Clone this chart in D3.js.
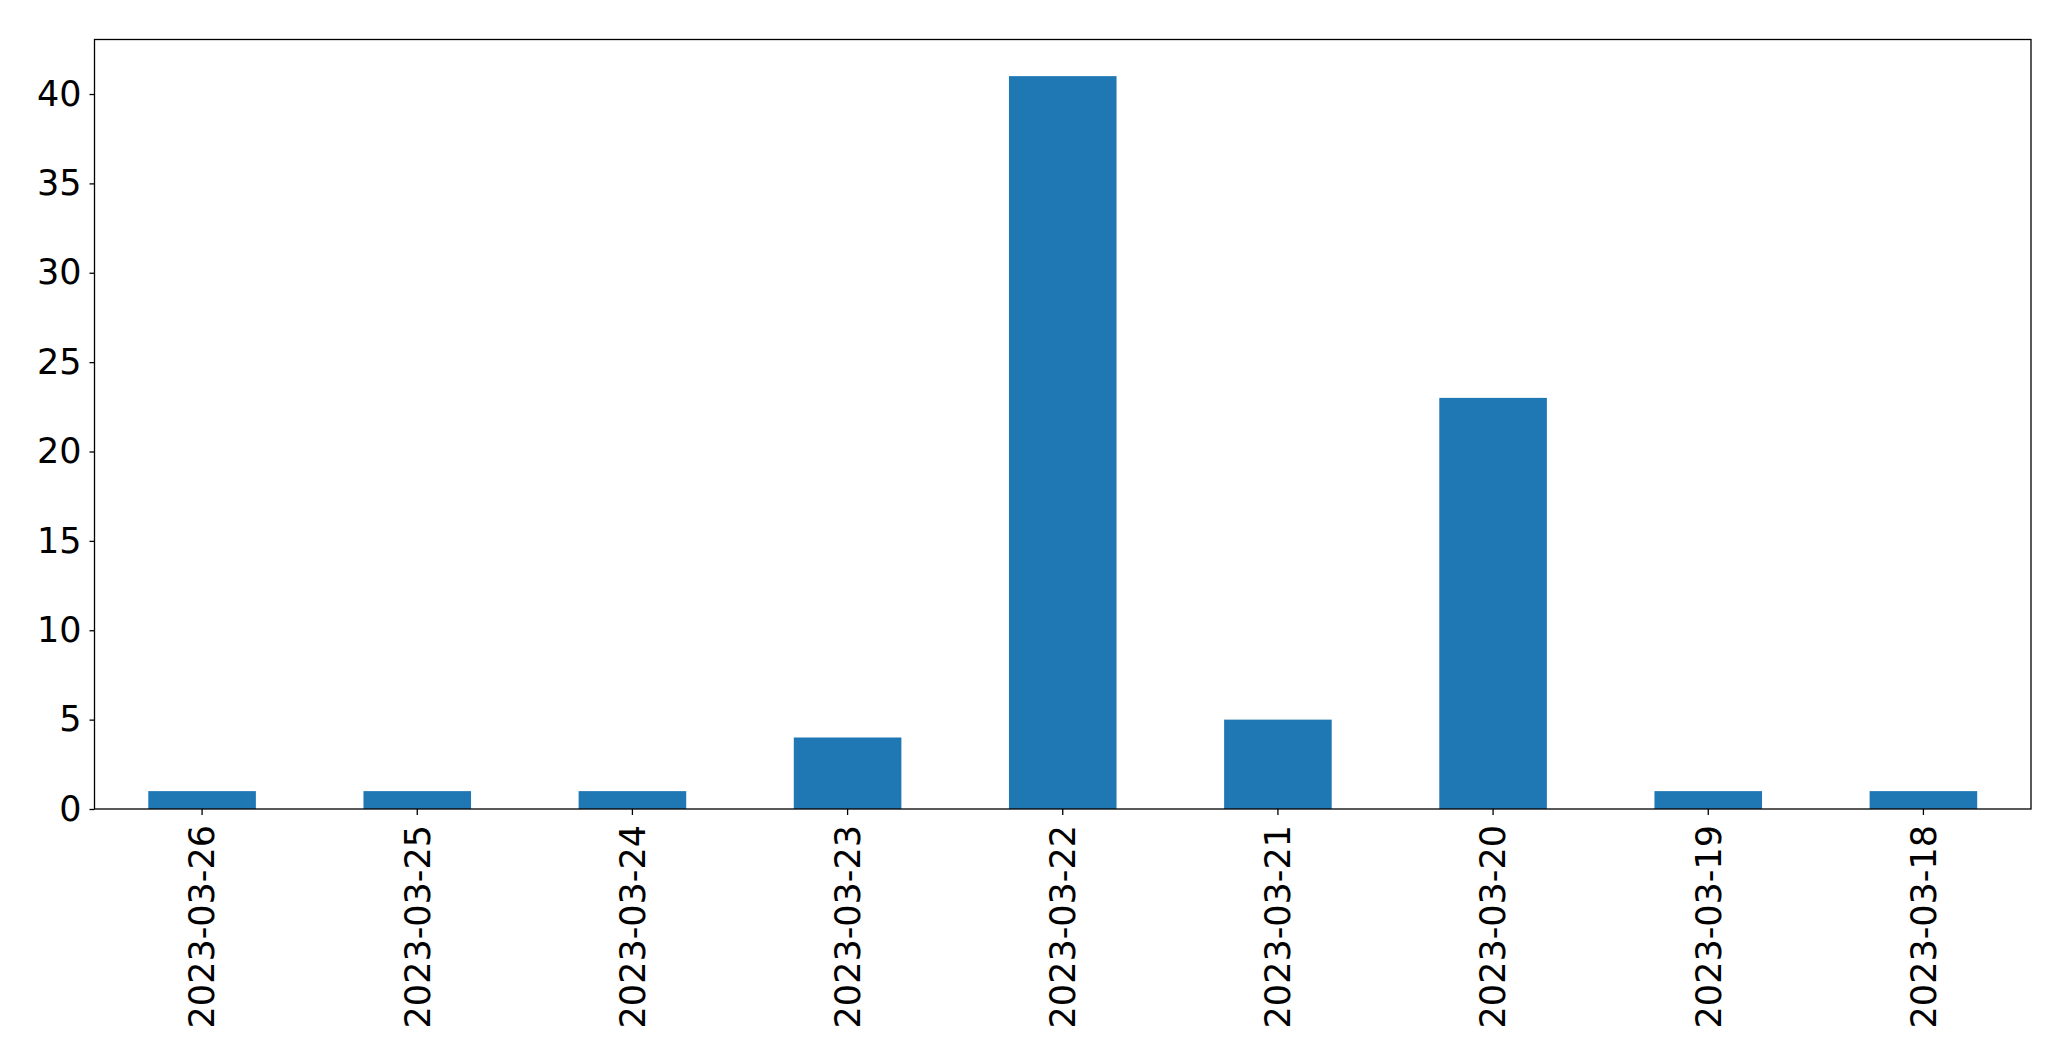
<!DOCTYPE html>
<html>
<head>
<meta charset="utf-8">
<script src="https://cdn.jsdelivr.net/npm/d3@7"></script>
<style>
  body { margin: 0; background: #fff; }
  svg { display: block; }
  .tick text { font-family: "DejaVu Sans", sans-serif; font-size: 35px; fill: #000; }
</style>
</head>
<body>
<svg id="chart"></svg>
<script>
const dates = ["2023-03-26", "2023-03-25", "2023-03-24", "2023-03-23", "2023-03-22",
               "2023-03-21", "2023-03-20", "2023-03-19", "2023-03-18"];
const counts = [1, 1, 1, 4, 41, 5, 23, 1, 1];
const yTicks = [0, 5, 10, 15, 20, 25, 30, 35, 40];

const width = 2071, height = 1061;
const margin = { top: 39.5, right: 40, bottom: 252, left: 94.5 };

const svg = d3.select("#chart").attr("width", width).attr("height", height);

const x = d3.scaleBand()
  .domain(dates)
  .range([margin.left, width - margin.right])
  .paddingInner(0.5)
  .paddingOuter(0.25);

const y = d3.scaleLinear()
  .domain([0, d3.max(counts) * 1.05])
  .range([height - margin.bottom, margin.top]);

svg.append("g")
  .selectAll("rect")
  .data(counts)
  .join("rect")
  .attr("x", (d, i) => x(dates[i]))
  .attr("y", d => y(d))
  .attr("width", x.bandwidth())
  .attr("height", d => y(0) - y(d))
  .attr("fill", "#1f77b4");

// y axis
const yAxis = svg.append("g")
  .attr("transform", `translate(${margin.left},0)`)
  .call(d3.axisLeft(y).tickValues(yTicks).tickSize(5).tickPadding(8));

// x axis
const xAxis = svg.append("g")
  .attr("transform", `translate(0,${height - margin.bottom})`)
  .call(d3.axisBottom(x).tickSize(6).tickPadding(8));

xAxis.selectAll("text")
  .attr("transform", "rotate(-90)")
  .attr("text-anchor", "end")
  .attr("x", -16)
  .attr("y", 0)
  .attr("dy", "0.35em");

[yAxis, xAxis].forEach(a => {
  a.select(".domain").remove();
  a.selectAll(".tick line").attr("stroke", "#000").attr("stroke-width", 1.3);
});

// frame
svg.append("rect")
  .attr("x", margin.left)
  .attr("y", margin.top)
  .attr("width", width - margin.right - margin.left)
  .attr("height", height - margin.bottom - margin.top)
  .attr("fill", "none")
  .attr("stroke", "#000")
  .attr("stroke-width", 1.3);
</script>
</body>
</html>
